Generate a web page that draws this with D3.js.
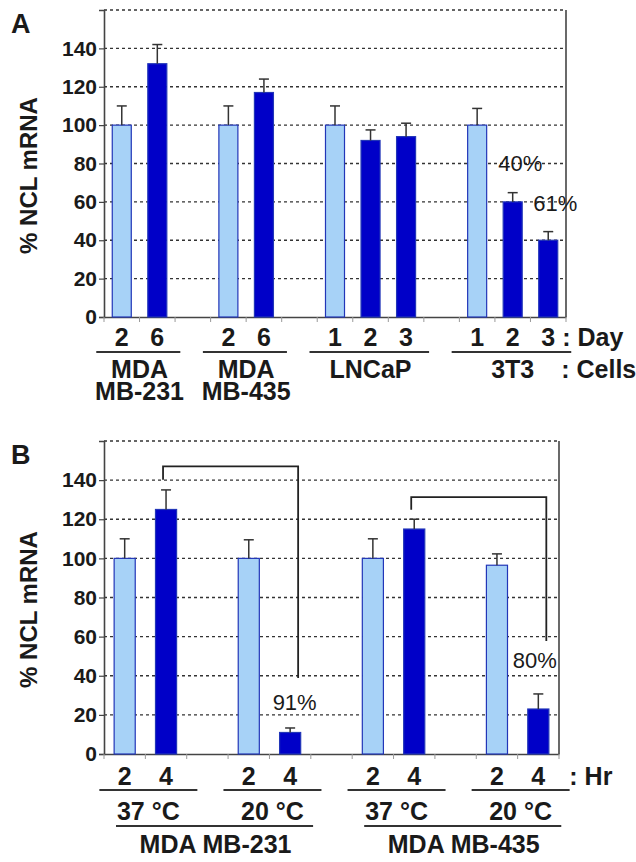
<!DOCTYPE html>
<html><head><meta charset="utf-8">
<script src="https://cdn.jsdelivr.net/npm/d3@7"></script>
<style>
html,body{margin:0;padding:0;background:#fff;}
svg text{font-family:"Liberation Sans",Arial,Helvetica,sans-serif;}
</style></head>
<body>
<svg id="chart" width="636" height="862"></svg>
<script>
// ---------- DATA ----------
// Panel A
const groupsA = ["MDA MB-231","MDA MB-435","LNCaP","3T3"];
const groupLinesA = [["MDA","MB-231"],["MDA","MB-435"],["LNCaP"],["3T3"]];
const groupOfBarA = [0,0,1,1,2,2,2,3,3,3];
const daysA   = ["2","6","2","6","1","2","3","1","2","3"];
const kindA   = ["ctrl","treat","ctrl","treat","ctrl","treat","treat","ctrl","treat","treat"];
const valuesA = [100,132,100,117,100,92,94,100,60,40];
const errorsA = [10,10,10,7,10,5.5,7,8.7,4.8,4.5];
const notesA  = [{bar:8,text:"40%",v:76,dx:-14.5},{bar:9,text:"61%",v:55,dx:-15}];

// Panel B
const cellsB  = ["MDA MB-231","MDA MB-435"];
const tempsB  = ["37 °C","20 °C","37 °C","20 °C"];
const tempOfBarB = [0,0,1,1,2,2,3,3];
const cellOfTempB = [0,0,1,1];
const hoursB  = ["2","4","2","4","2","4","2","4"];
const kindB   = ["ctrl","treat","ctrl","treat","ctrl","treat","ctrl","treat"];
const valuesB = [100,125,100,11,100,115,96.5,23];
const errorsB = [10,10,9.5,2.3,10,5,5.8,7.7];
const bracketsB = [
  {from:1,to:3,top:147,leftEnd:140.2,rightEnd:38.9,text:"91%",tv:22.5,dx:-17.5},
  {from:5,to:7,top:131.3,leftEnd:124.8,rightEnd:57.8,text:"80%",tv:44,dx:-25.5}
];

const yTicks = [0,20,40,60,80,100,120,140];
const yGrid  = [20,40,60,80,100,120,140,160];
const yMax = 160;

// ---------- STYLE ----------
const LIGHT = "#a7d2f7", DARK = "#0000c8", EDGE = "#2236b8", INK = "#1a1a1a", AX = "#444";
const svg = d3.select("#chart");
svg.append("rect").attr("width",636).attr("height",862).attr("fill","#fff");

function slotsFromGroups(groupOfBar){
  const slots = []; const barSlot = [];
  groupOfBar.forEach((g,i)=>{
    if(i>0 && g!==groupOfBar[i-1]) slots.push("gap"+i);
    barSlot.push("b"+i); slots.push("b"+i);
  });
  return {slots, barSlot};
}

function panel(opts){
  const g = svg.append("g");
  const {left,right,top,bottom} = opts.box;
  const y = d3.scaleLinear().domain([0,yMax]).range([bottom,top]);
  const {slots,barSlot} = slotsFromGroups(opts.groupOfBar);
  const x = d3.scaleBand().domain(slots).range([left,right])
      .paddingInner(opts.pad).paddingOuter(opts.pad/2);
  const cx = i => x(barSlot[i]) + x.bandwidth()/2;

  g.append("g").selectAll("line").data(yGrid).join("line")
    .attr("x1",left).attr("x2",right).attr("y1",d=>y(d)).attr("y2",d=>y(d))
    .attr("stroke","#333").attr("stroke-width",1.4).attr("stroke-dasharray","3,3");

  const ya = g.append("g").attr("transform",`translate(${left},0)`)
    .call(d3.axisLeft(y).tickValues(yTicks).tickSize(5).tickPadding(2));
  ya.select(".domain").attr("stroke",AX).attr("stroke-width",1.6);
  ya.selectAll(".tick line").attr("stroke",AX).attr("stroke-width",1.2);
  ya.selectAll(".tick text").attr("font-size",21).attr("font-weight","bold")
    .attr("fill",INK).attr("font-family","Liberation Sans, Arial, sans-serif");
  g.append("line").attr("x1",right).attr("x2",right).attr("y1",top).attr("y2",bottom)
    .attr("stroke",AX).attr("stroke-width",1.6);
  const xa = g.append("g").attr("transform",`translate(0,${bottom})`)
    .call(d3.axisBottom(x).tickValues([]).tickSizeOuter(0));
  xa.select(".domain").attr("stroke",AX).attr("stroke-width",1.6);
  const bounds = d3.range(slots.length+1).map(k=> left + k*x.step());
  g.append("g").selectAll("line").data(bounds).join("line")
    .attr("x1",d=>d).attr("x2",d=>d).attr("y1",bottom).attr("y2",bottom+5)
    .attr("stroke","#999").attr("stroke-width",1);

  g.append("g").selectAll("rect").data(opts.values).join("rect")
    .attr("x",(d,i)=>x(barSlot[i])).attr("width",x.bandwidth())
    .attr("y",d=>y(d)).attr("height",d=>y(0)-y(d))
    .attr("fill",(d,i)=>opts.kind[i]==="ctrl"?LIGHT:DARK)
    .attr("stroke",EDGE).attr("stroke-width",1.2);

  const eg = g.append("g").attr("stroke","#333").attr("stroke-width",1.5);
  opts.values.forEach((v,i)=>{
    const e = opts.errors[i];
    eg.append("line").attr("x1",cx(i)).attr("x2",cx(i)).attr("y1",y(v)).attr("y2",y(v+e));
    eg.append("line").attr("x1",cx(i)-5).attr("x2",cx(i)+5).attr("y1",y(v+e)).attr("y2",y(v+e));
  });

  g.append("text").attr("x",11).attr("y",top+23).text(opts.letter)
    .attr("font-size",27).attr("font-weight","bold").attr("fill",INK);
  g.append("text").attr("transform",`translate(37,${(top+bottom)/2+12}) rotate(-90)`)
    .attr("text-anchor","middle").attr("font-size",24).attr("font-weight","bold").attr("fill",INK)
    .text("% NCL mRNA");
  return {g,x,y,cx,barSlot,slots};
}

function hline(g,x1,x2,yy){
  g.append("line").attr("x1",x1).attr("x2",x2).attr("y1",yy).attr("y2",yy)
   .attr("stroke","#333").attr("stroke-width",1.8);
}
function label(g,txt,xx,yy,anchor,size,weight){
  return g.append("text").attr("x",xx).attr("y",yy).attr("text-anchor",anchor||"middle")
    .attr("font-size",size||25).attr("font-weight",weight||"bold").attr("fill",INK).text(txt);
}

// ---------- PANEL A ----------
const A = panel({box:{left:104,right:566,top:10,bottom:317},pad:0.465,
  groupOfBar:groupOfBarA,values:valuesA,errors:errorsA,kind:kindA,letter:"A"});
daysA.forEach((d,i)=>label(A.g,d,A.cx(i),346));
label(A.g,": Day",A.cx(9)+14,346,"start");
groupsA.forEach((gname,gi)=>{
  const idx = groupOfBarA.map((g,i)=>g===gi?i:-1).filter(i=>i>=0);
  const x1 = A.x(A.barSlot[idx[0]]) - A.x.step()*0.45;
  const x2 = A.x(A.barSlot[idx[idx.length-1]]) + A.x.bandwidth() + A.x.step()*0.38;
  hline(A.g,x1,x2,352);
  const mid = (A.cx(idx[0])+A.cx(idx[idx.length-1]))/2;
  const t = A.g.append("text").attr("text-anchor","middle").attr("font-size",25)
    .attr("font-weight","bold").attr("fill",INK);
  groupLinesA[gi].forEach((ln,k)=>t.append("tspan").attr("x",mid).attr("y",378+k*22).text(ln));
});
label(A.g,": Cells",A.cx(9)+13,378,"start");
notesA.forEach(n=>label(A.g,n.text,A.cx(n.bar)+n.dx,A.y(n.v),"start",22,"normal"));

// ---------- PANEL B ----------
const B = panel({box:{left:104,right:559,top:441,bottom:754},pad:0.49,
  groupOfBar:tempOfBarB,values:valuesB,errors:errorsB,kind:kindB,letter:"B"});
hoursB.forEach((d,i)=>label(B.g,d,B.cx(i),785));
label(B.g,": Hr",B.cx(7)+31,785,"start");
tempsB.forEach((t,ti)=>{
  const idx = tempOfBarB.map((g,i)=>g===ti?i:-1).filter(i=>i>=0);
  const mid = (B.cx(idx[0])+B.cx(idx[idx.length-1]))/2;
  hline(B.g,mid-46,mid+52,790);
  label(B.g,t,mid+3,820);
});
cellsB.forEach((c,ci)=>{
  const idx = tempOfBarB.map((t,i)=>cellOfTempB[t]===ci?i:-1).filter(i=>i>=0);
  const x1 = B.x(B.barSlot[idx[0]]) - B.x.step()*0.1;
  const x2 = B.x(B.barSlot[idx[idx.length-1]]) + B.x.bandwidth() + B.x.step()*0.3;
  hline(B.g,x1+6,x2,826);
  label(B.g,c,(x1+x2)/2+4,853);
});
const bg = B.g.append("g").attr("fill","none").attr("stroke","#222").attr("stroke-width",1.8);
bracketsB.forEach(b=>{
  const xl = B.cx(b.from)-3, xr = B.cx(b.to)+8;
  bg.append("path").attr("d",
    `M${xl},${B.y(b.leftEnd)}V${B.y(b.top)}H${xr}V${B.y(b.rightEnd)}`);
  label(B.g,b.text,B.cx(b.to)+b.dx,B.y(b.tv),"start",22,"normal");
});
</script>
</body></html>
